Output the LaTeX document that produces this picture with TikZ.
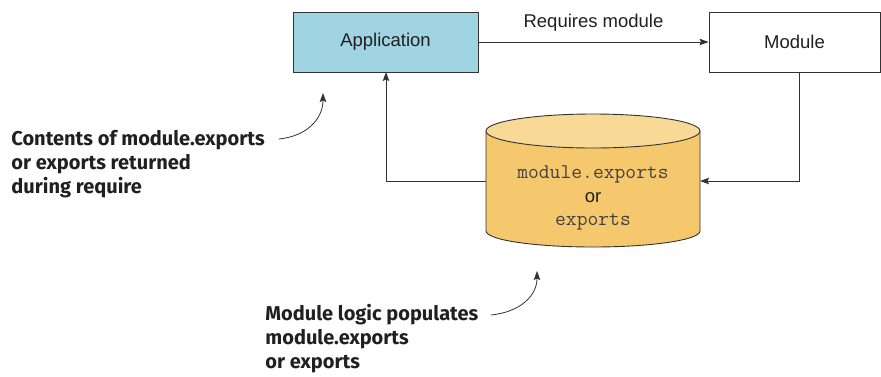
\documentclass[tikz,border=0pt]{standalone}
\usepackage{fontspec}
\setmainfont{Liberation Sans}
\newfontfamily\annfont{Fira Sans}
\newfontfamily\codefont{Latin Modern Mono}
\usetikzlibrary{arrows.meta}
\definecolor{appblue}{HTML}{A0D4E3}
\definecolor{cylbody}{HTML}{F5C86E}
\definecolor{cyltop}{HTML}{F8D996}
\definecolor{linegray}{HTML}{333333}
\definecolor{txt}{HTML}{231F20}
\begin{document}
\begin{tikzpicture}[x=1pt,y=-1pt,
  line width=0.9pt,
  boxstyle/.style={draw=linegray, line width=0.9pt, minimum width=#1, minimum height=60pt, inner sep=0pt, font=\fontsize{18.5}{20}\selectfont, text=txt},
  conn/.style={draw=linegray, line width=0.9pt, -{Stealth[length=9pt,width=6.5pt,inset=1.5pt]}},
  ann/.style={font=\annfont\bfseries\fontsize{20}{24}\selectfont, align=left, text=txt, inner sep=0pt, anchor=base west},
  curvearr/.style={draw=linegray, line width=0.8pt, -{Stealth[length=9pt,width=6.5pt,inset=1.5pt]}},
  monotxt/.style={font=\codefont\fontsize{21}{22}\selectfont, text=txt!85, inner sep=0pt, anchor=base},
]
\useasboundingbox (0,0) rectangle (881,376);

% boxes
\node[boxstyle=185pt, fill=appblue] (app) at (385.5,42) {Application};
\node[boxstyle=171pt, fill=white] (mod) at (794.5,42) {Module};

% cylinder
\fill[cylbody] (486,131) -- (486,231) arc[start angle=180,end angle=0,x radius=107,y radius=16] -- (700,131) -- cycle;
\draw[linegray, line width=0.9pt] (486,131) -- (486,231) arc[start angle=180,end angle=0,x radius=107,y radius=16] -- (700,131);
\draw[linegray, line width=0.9pt, fill=cyltop] (593,131) ellipse[x radius=107,y radius=17];
\coordinate (cylL) at (486,181);
\coordinate (cylR) at (700,181);
\node[monotxt] (t1) at (593,178) {module.exports};
\node[font=\fontsize{18.5}{20}\selectfont, text=txt, inner sep=0pt, anchor=base] (t2) at (593,202) {or};
\node[monotxt] (t3) at (593,225) {exports};

% connectors
\draw[conn] (app.east) -- node[above=7pt, font=\fontsize{18.5}{20}\selectfont, text=txt] (lbl) {Requires module} (mod.west);
\coordinate (modDown) at (799,72);
\coordinate (appUp) at (386,72);
\draw[conn] (modDown) |- (cylR);
\draw[conn] (cylL) -| (appUp);

% annotations
\node[ann] (ann1) at (11,193) {Contents of module.exports\\or exports returned\\during require};
\coordinate (a1s) at (279,139);
\coordinate (a1e) at (323,93);
\draw[curvearr] (a1s) .. controls (308,136) and (323,118) .. (a1e);

\node[ann] (ann2) at (265,368) {Module logic populates\\module.exports\\or exports};
\coordinate (a2s) at (491,315);
\coordinate (a2e) at (537,271);
\draw[curvearr] (a2s) .. controls (520,312) and (537,296) .. (a2e);
\end{tikzpicture}
\end{document}
